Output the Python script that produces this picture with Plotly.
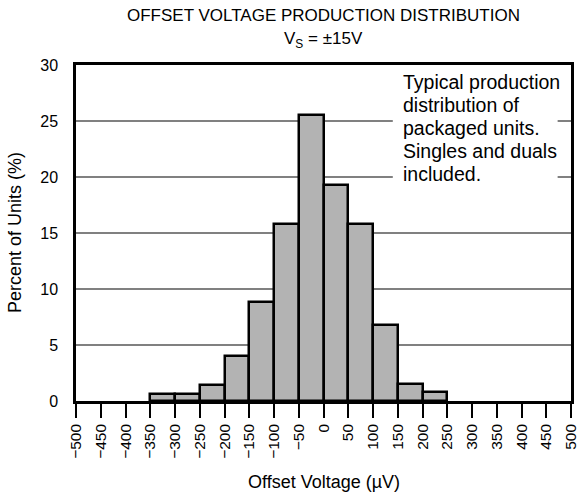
import plotly.graph_objects as go

# Data
bin_start = [-350, -300, -250, -200, -150, -100, -50, 0, 50, 100, 150, 200]
bin_width = 50
percent = [0.6, 0.6, 1.4, 4.0, 8.8, 15.8, 25.5, 19.3, 15.8, 6.8, 1.5, 0.8]
x_ticks = list(range(-500, 501, 50))
y_ticks = [0, 5, 10, 15, 20, 25, 30]
note_lines = ["Typical production", "distribution of", "packaged units.",
              "Singles and duals", "included."]

FONT = "Liberation Sans, Arial, sans-serif"

centers = [s + bin_width / 2 for s in bin_start]

fig = go.Figure()
fig.add_trace(go.Bar(
    x=centers, y=percent, width=[bin_width] * len(percent),
    marker=dict(color="#b3b3b3", line=dict(color="black", width=2.5)),
    hoverinfo="skip",
))

fig.update_layout(
    width=578, height=500,
    margin=dict(l=76, r=7, t=65, b=99, autoexpand=False),
    paper_bgcolor="white", plot_bgcolor="white",
    showlegend=False,
    font=dict(family=FONT, size=16, color="black"),
    bargap=0,
)
fig.update_xaxes(
    range=[-500, 500], tickvals=x_ticks,
    ticktext=[("\u2212" + str(-v)) if v < 0 else str(v) for v in x_ticks],
    tickangle=-90, ticks="outside", ticklen=14, tickwidth=1.5, tickcolor="black",
    showline=True, linecolor="black", linewidth=2.5, mirror=True,
    showgrid=False, zeroline=False, automargin=False, ticklabeloverflow="allow",
    tickfont=dict(family=FONT, size=15.5),
)
fig.update_yaxes(
    range=[0, 30], tickvals=y_ticks, ticks="",
    showline=True, linecolor="black", linewidth=2.5, mirror=True,
    showgrid=True, gridcolor="#808080", gridwidth=1.5, zeroline=False,
    automargin=False,
    tickfont=dict(family=FONT, size=16), ticklabelstandoff=12,
)

# Axis titles
fig.add_annotation(xref="paper", yref="paper", x=0.5, y=0, yshift=-81,
                   text="Offset Voltage (\u00b5V)", showarrow=False,
                   xanchor="center", yanchor="middle", font=dict(family=FONT, size=18))
fig.add_annotation(xref="paper", yref="paper", x=0, xshift=-61, y=0.5,
                   text="Percent of Units (%)", showarrow=False, textangle=-90,
                   xanchor="center", yanchor="middle", font=dict(family=FONT, size=18))

# White box behind note text (hides gridlines)
fig.add_shape(type="rect", xref="paper", yref="y", x0=0.64, x1=0.973, y0=19.4, y1=29.6,
              fillcolor="white", line=dict(width=0), layer="above")

for i, line in enumerate(note_lines):
    fig.add_annotation(xref="paper", yref="paper", x=0.656, y=1 - (17 + 23 * i) / 336,
                       text=line, showarrow=False, xanchor="left", yanchor="middle",
                       font=dict(family=FONT, size=19.5))

fig.add_annotation(xref="paper", yref="paper", x=0.5, y=1, yshift=50,
                   text="OFFSET VOLTAGE PRODUCTION DISTRIBUTION", showarrow=False,
                   xanchor="center", yanchor="middle", font=dict(family=FONT, size=17))
fig.add_annotation(xref="paper", yref="paper", x=0.5, y=1, yshift=25,
                   text="V<sub>S</sub> = \u00b115V", showarrow=False,
                   xanchor="center", yanchor="middle", font=dict(family=FONT, size=17))

fig.write_html("out.html", config={"displayModeBar": False},
               post_script="document.body.style.margin='0';")
